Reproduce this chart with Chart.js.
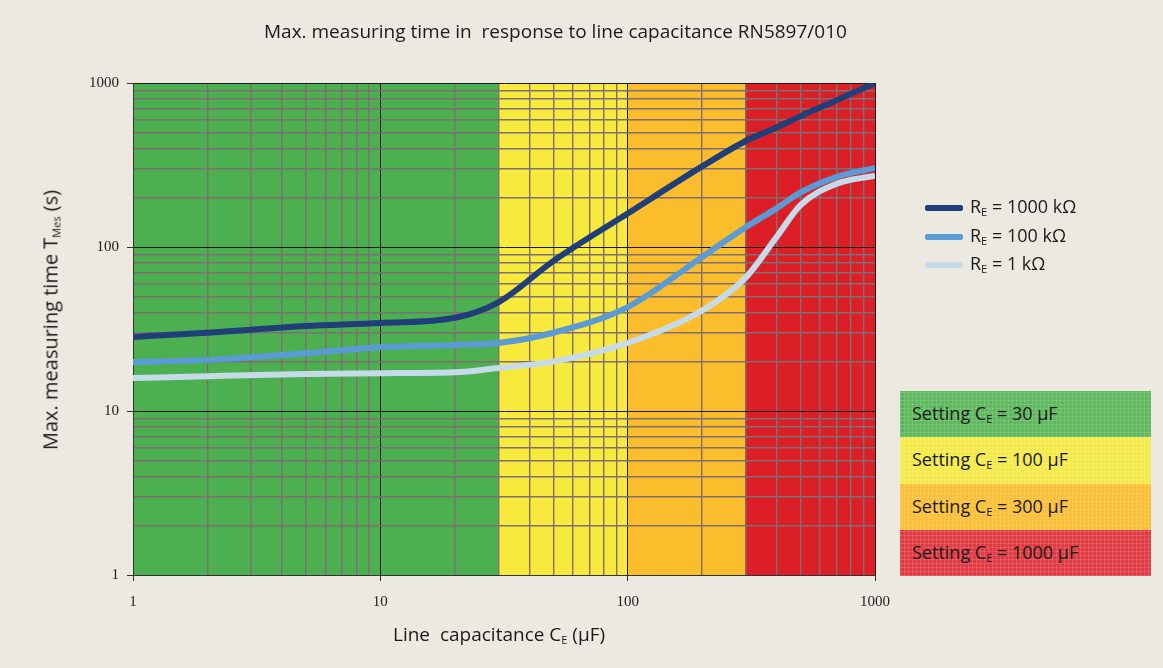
<!DOCTYPE html>
<html>
<head>
<meta charset="utf-8">
<script src="https://cdn.jsdelivr.net/npm/chart.js@4"></script>
<style>
  body { margin: 0; background: #ece9e1; }
  #wrap { position: relative; width: 1163px; height: 668px; background: #ece9e1; font-family: "Open Sans", Lato, sans-serif; color: #1a1a1a; }
  #chart { position: absolute; left: 0; top: 0; }
  .title { position: absolute; left: 264px; top: 18px; white-space: nowrap; font-size: 19px; }
  .xtitle { position: absolute; left: 393px; top: 621px; white-space: nowrap; font-size: 19px; }
  .ytitle { position: absolute; left: 50px; top: 320px; transform: translate(-50%, -50%) rotate(-90deg); white-space: nowrap; font-size: 20px; }
  sub { font-size: 11px; vertical-align: -3px; line-height: 0; }
  .legend { position: absolute; left: 925px; top: 192px; font-size: 18px; }
  .legend div { height: 28.5px; line-height: 28.5px; white-space: nowrap; }
  .legend span.sw { display: inline-block; width: 38px; height: 6px; border-radius: 2px; margin-right: 7px; vertical-align: middle; }
  .settings { position: absolute; left: 900px; top: 391px; width: 251px; }
  .settings div { height: 46.3px; line-height: 44px; padding-left: 12px; font-size: 18px; box-sizing: border-box; white-space: nowrap;
    background-image: repeating-linear-gradient(0deg, rgba(255,255,255,0.12) 0 1px, transparent 1px 4px),
                      repeating-linear-gradient(90deg, rgba(255,255,255,0.12) 0 1px, transparent 1px 4px); }
</style>
</head>
<body>
<div id="wrap">
  <canvas id="chart" width="1163" height="668"></canvas>
  <div class="title">Max. measuring time in&nbsp; response to line capacitance RN5897/010</div>
  <div class="xtitle">Line&nbsp; capacitance C<sub>E</sub> (µF)</div>
  <div class="ytitle">Max. measuring time T<sub>Mes</sub> (s)</div>
  <div class="legend" id="legend"></div>
  <div class="settings" id="settings"></div>
</div>
<script>
// line capacitance C_E (µF)
const capacitance = [1, 2, 5, 10, 20, 30, 50, 100, 200, 300, 400, 500, 700, 1000];
// max. measuring time (s) per R_E setting
const re1000k = [28.3, 30, 33, 34.4, 37, 46, 82, 160, 310, 443, 536, 628, 786, 1000];
const re100k = [19.9, 20.5, 22.5, 24.5, 25.3, 26, 30, 43, 87, 132, 172, 215, 268, 303];
const re1k = [15.9, 16.3, 16.8, 17, 17.2, 18.3, 20, 26, 41, 65, 115, 180, 243, 272];

const seriesLabels = ['1000 kΩ', '100 kΩ', '1 kΩ'];
const seriesColors = ['#203f78', '#5b9bd5', '#c6dbea'];

// colour bands of the C_E settings
const bandEdges = [1, 30, 100, 300, 1000];
const bandColors = ['#4cb051', '#f8ea3c', '#fbbd2b', '#dc1f27'];
const settingLabels = ['30 µF', '100 µF', '300 µF', '1000 µF'];
const settingColors = ['#5fb85e', '#f5ea4a', '#fbbf38', '#e03b43'];

const tickValues = [1, 10, 100, 1000];

function logTicks(min, max) {
    const out = [];
    for (let d = min; d < max; d *= 10) {
        for (let k = 1; k < 10; k++) out.push(d * k);
    }
    out.push(max);
    return out;
}
function isMajor(v) {
    return tickValues.indexOf(Math.round(v)) !== -1;
}

const bandsPlugin = {
    id: 'bands',
    beforeDraw(chart) {
        const ctx = chart.ctx;
        const x = chart.scales.x;
        const a = chart.chartArea;
        for (let i = 0; i < bandColors.length; i++) {
            const x0 = x.getPixelForValue(bandEdges[i]);
            const x1 = x.getPixelForValue(bandEdges[i + 1]);
            ctx.fillStyle = bandColors[i];
            ctx.fillRect(x0, a.top, x1 - x0, a.bottom - a.top);
        }
    }
};

const gridOpts = {
    color: c => isMajor(c.tick.value) ? '#1b1b1b' : '#7d6f73',
    lineWidth: c => isMajor(c.tick.value) ? 1 : 1.4,
    tickColor: c => isMajor(c.tick.value) ? '#333' : 'rgba(0,0,0,0)',
    tickLength: 6,
    drawOnChartArea: true
};
const tickFont = { family: 'Liberation Serif', size: 15 };

new Chart(document.getElementById('chart'), {
    type: 'line',
    data: {
        datasets: [re1000k, re100k, re1k].map((vals, i) => ({
            label: 'R_E = ' + seriesLabels[i],
            data: capacitance.map((c, j) => ({ x: c, y: vals[j] })),
            borderColor: seriesColors[i],
            borderWidth: 6,
            pointRadius: 0,
            cubicInterpolationMode: 'monotone',
            fill: false
        }))
    },
    options: {
        responsive: false,
        animation: false,
        layout: { padding: { left: 0, right: 288, top: 83, bottom: 0 } },
        scales: {
            x: {
                type: 'logarithmic', min: 1, max: 1000,
                afterBuildTicks: s => { s.ticks = logTicks(1, 1000).map(v => ({ value: v })); },
                afterFit: s => { s.height = 93; },
                grid: gridOpts,
                border: { color: '#333', width: 1 },
                ticks: {
                    autoSkip: false, maxRotation: 0, color: '#222', font: tickFont, padding: 12,
                    callback: v => isMajor(v) ? String(Math.round(v)) : ''
                }
            },
            y: {
                type: 'logarithmic', min: 1, max: 1000,
                afterBuildTicks: s => { s.ticks = logTicks(1, 1000).map(v => ({ value: v })); },
                afterFit: s => { s.width = 133; },
                grid: gridOpts,
                border: { color: '#333', width: 1 },
                ticks: {
                    autoSkip: false, color: '#222', font: tickFont, padding: 8,
                    callback: v => isMajor(v) ? String(Math.round(v)) : ''
                }
            }
        },
        plugins: {
            legend: { display: false },
            title: { display: false },
            tooltip: { enabled: false }
        }
    },
    plugins: [bandsPlugin]
});

// legend and setting boxes (HTML so that subscripts stay text)
const legend = document.getElementById('legend');
seriesLabels.forEach((lab, i) => {
    const row = document.createElement('div');
    row.innerHTML = '<span class="sw" style="background:' + seriesColors[i] + '"></span>R<sub>E</sub> = ' + lab;
    legend.appendChild(row);
});
const settings = document.getElementById('settings');
settingLabels.forEach((lab, i) => {
    const box = document.createElement('div');
    box.style.backgroundColor = settingColors[i];
    box.innerHTML = 'Setting C<sub>E</sub> = ' + lab;
    settings.appendChild(box);
});
</script>
</body>
</html>
